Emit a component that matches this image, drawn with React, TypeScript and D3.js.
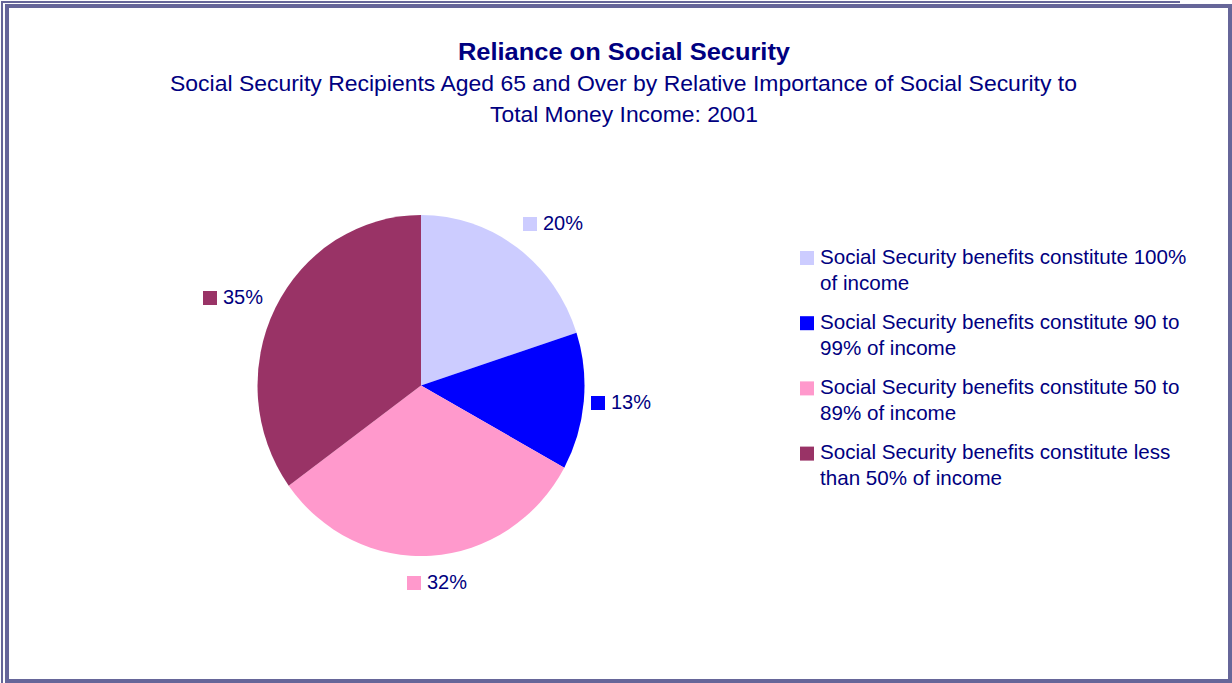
import React from "react";
import * as d3 from "d3";

const categories = [
  "Social Security benefits constitute 100% of income",
  "Social Security benefits constitute 90 to 99% of income",
  "Social Security benefits constitute 50 to 89% of income",
  "Social Security benefits constitute less than 50% of income",
];
const legendLines = [
  ["Social Security benefits constitute 100%", "of income"],
  ["Social Security benefits constitute 90 to", "99% of income"],
  ["Social Security benefits constitute 50 to", "89% of income"],
  ["Social Security benefits constitute less", "than 50% of income"],
];
const values = [20, 13, 32, 35];
const colors = ["#CCCCFF", "#0000FF", "#FF99CC", "#993366"];
const labelPositions = [
  [523, 217],
  [591, 396],
  [407, 576],
  [203, 291],
];

const W = 1232;
const H = 683;
const NAVY = "#000080";
const FRAME = "#666699";
const FONT = "'Liberation Sans', Arial, sans-serif";

export default function App() {
  const cx = 421;
  const cy = 385.5;
  const rx = 163.5;
  const ry = 170.5;
  const pie = d3.pie<number>().sort(null).value((d) => d);
  const arcs = pie(values);
  const arcGen = d3.arc<d3.PieArcDatum<number>>().innerRadius(0).outerRadius(rx);
  const total = d3.sum(values);
  const fmt = (v: number) => `${Math.round((v / total) * 100)}%`;

  return (
    <svg
      width={W}
      height={H}
      style={{ position: "absolute", left: 0, top: 0, background: "#fff" }}
      fontFamily={FONT}
    >
      <rect x={0} y={0} width={W} height={H} fill="#fff" />
      {/* frame */}
      <line x1={2} y1={1} x2={2} y2={683} stroke={FRAME} strokeWidth={2} />
      <line x1={1} y1={2} x2={1180} y2={2} stroke={FRAME} strokeWidth={2} />
      <rect x={7} y={6} width={1223} height={675} fill="none" stroke={FRAME} strokeWidth={4} />

      {/* titles */}
      <text x={624} y={60} textAnchor="middle" fontSize={23} fontWeight="bold" fill={NAVY}
        textLength={332} lengthAdjust="spacingAndGlyphs">
        Reliance on Social Security
      </text>
      <text x={623.5} y={91} textAnchor="middle" fontSize={22} fill={NAVY}
        textLength={907} lengthAdjust="spacingAndGlyphs">
        Social Security Recipients Aged 65 and Over by Relative Importance of Social Security to
      </text>
      <text x={624} y={122} textAnchor="middle" fontSize={22} fill={NAVY}
        textLength={268} lengthAdjust="spacingAndGlyphs">
        Total Money Income: 2001
      </text>

      {/* pie */}
      <g transform={`translate(${cx},${cy}) scale(1,${ry / rx})`}>
        {arcs.map((a, i) => (
          <path key={i} d={arcGen(a) || ""} fill={colors[i]} />
        ))}
      </g>

      {/* data labels */}
      {values.map((v, i) => (
        <g key={i}>
          <rect x={labelPositions[i][0]} y={labelPositions[i][1]} width={14} height={14} fill={colors[i]} />
          <text x={labelPositions[i][0] + 20} y={labelPositions[i][1] + 12.5} fontSize={20} fill={NAVY}>
            {fmt(v)}
          </text>
        </g>
      ))}

      {/* legend */}
      {categories.map((c, i) => {
        const by = 263.5 + i * 65.2;
        return (
          <g key={c}>
            <rect x={800} y={by - 12.5} width={14} height={14} fill={colors[i]} />
            {legendLines[i].map((ln, j) => (
              <text key={j} x={820} y={by + j * 26} fontSize={20.6} fill={NAVY}>
                {ln}
              </text>
            ))}
          </g>
        );
      })}
    </svg>
  );
}
